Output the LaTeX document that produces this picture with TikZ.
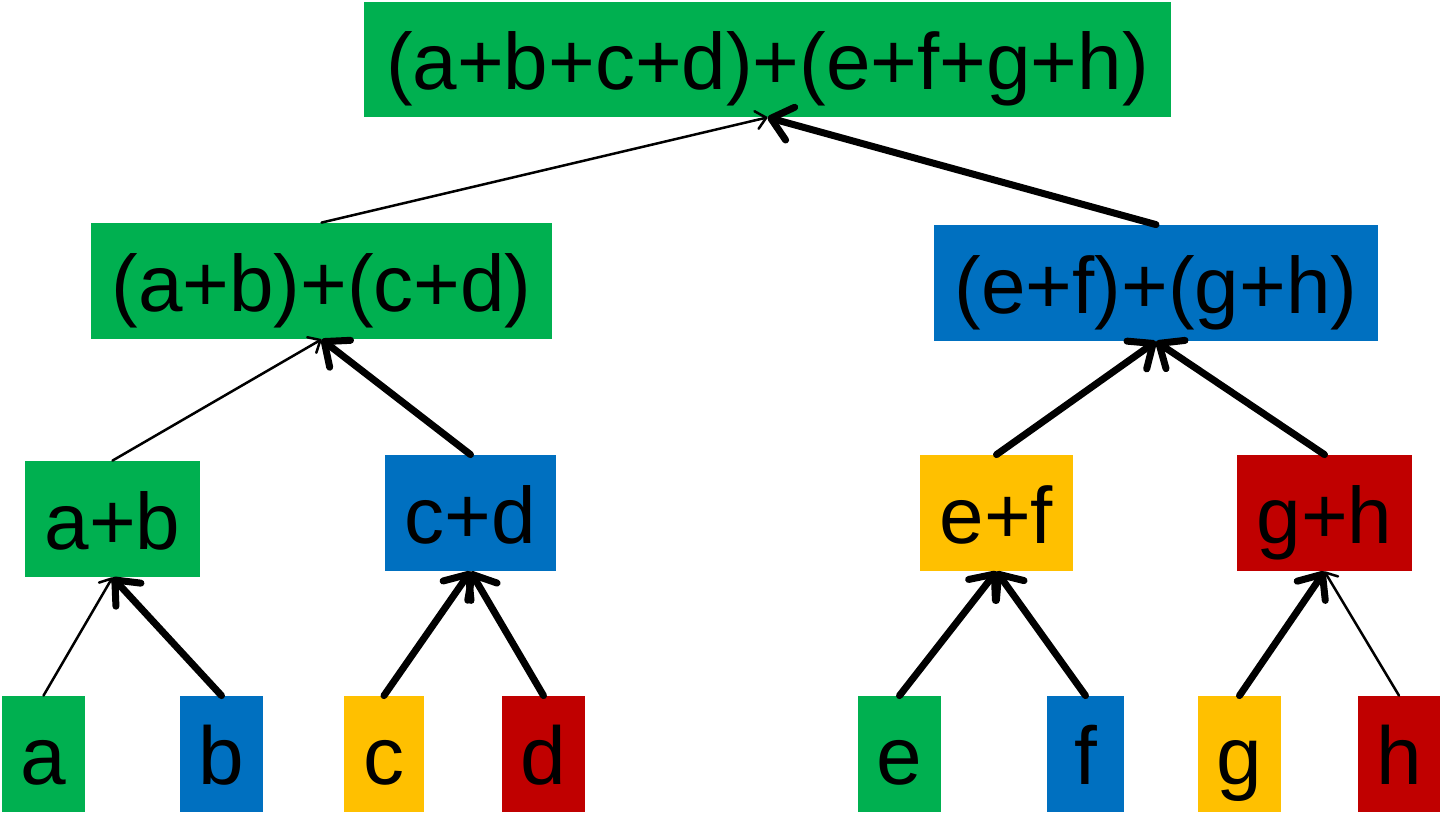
\documentclass[tikz,border=0pt]{standalone}
\usepackage{fontspec}
\setmainfont{Liberation Sans}
\usetikzlibrary{arrows.meta}
\definecolor{cgreen}{HTML}{00B050}
\definecolor{cblue}{HTML}{0070C0}
\definecolor{cyellow}{HTML}{FFC000}
\definecolor{cred}{HTML}{C00000}
\tikzset{
  box/.style={rectangle, inner sep=0pt, minimum height=58pt, font=\fontsize{40}{45}\selectfont, text=black, text height=34pt, text depth=3.6pt},
  leaf/.style={box, font=\fontsize{41}{46}\selectfont},
  thinarrow/.style={line width=1.25pt, line cap=round, -{Straight Barb[round,length=5pt,width=9pt]}},
  thickarrow/.style={line width=3.5pt, line cap=round, -{Straight Barb[round,length=10pt,width=17pt]}},
}
\begin{document}
\begin{tikzpicture}[x=0.5pt,y=-0.5pt]
\useasboundingbox (0,0) rectangle (1441,814);
\node[box, fill=cgreen, minimum width=403.5pt, minimum height=57.5pt] (top) at (767.5,59.5) {(a+b+c+d)+(e+f+g+h)};
\node[box, fill=cgreen, minimum width=230.5pt] (ml) at (321.5,281) {(a+b)+(c+d)};
\node[box, fill=cblue, minimum width=222pt] (mr) at (1156,283) {(e+f)+(g+h)};
\node[box, fill=cgreen, minimum width=87.5pt] (ab) at (112.5,519) {a+b};
\node[box, fill=cblue, minimum width=85.5pt] (cd) at (470.5,513) {c+d};
\node[box, fill=cyellow, minimum width=76.5pt] (ef) at (996.5,513) {e+f};
\node[box, fill=cred, minimum width=87.5pt] (gh) at (1324.5,513) {g+h};
\node[leaf, fill=cgreen, minimum width=41.5pt] (a) at (43.5,754) {a};
\node[leaf, fill=cblue, minimum width=41.5pt] (b) at (221.5,754) {b};
\node[leaf, fill=cyellow, minimum width=40pt] (c) at (384,754) {c};
\node[leaf, fill=cred, minimum width=41.5pt] (d) at (543.5,754) {d};
\node[leaf, fill=cgreen, minimum width=41.5pt] (e) at (899.5,754) {e};
\node[leaf, fill=cblue, minimum width=38.5pt] (f) at (1085.5,754) {f};
\node[leaf, fill=cyellow, minimum width=41.5pt] (g) at (1239.5,754) {g};
\node[leaf, fill=cred, minimum width=41pt] (h) at (1399,754) {h};
\draw[thinarrow] (ml.north) -- (top.south);
\draw[thickarrow] (mr.north) -- (top.south);
\draw[thinarrow] (ab.north) -- (ml.south);
\draw[thickarrow] (cd.north) -- (ml.south);
\draw[thickarrow] (ef.north) -- (mr.south);
\draw[thickarrow] (gh.north) -- (mr.south);
\draw[thinarrow] (a.north) -- (ab.south);
\draw[thickarrow] (b.north) -- (ab.south);
\draw[thickarrow] (c.north) -- (cd.south);
\draw[thickarrow] (d.north) -- (cd.south);
\draw[thickarrow] (e.north) -- (ef.south);
\draw[thickarrow] (f.north) -- (ef.south);
\draw[thickarrow] (g.north) -- (gh.south);
\draw[thinarrow] (h.north) -- (gh.south);
\end{tikzpicture}
\end{document}
